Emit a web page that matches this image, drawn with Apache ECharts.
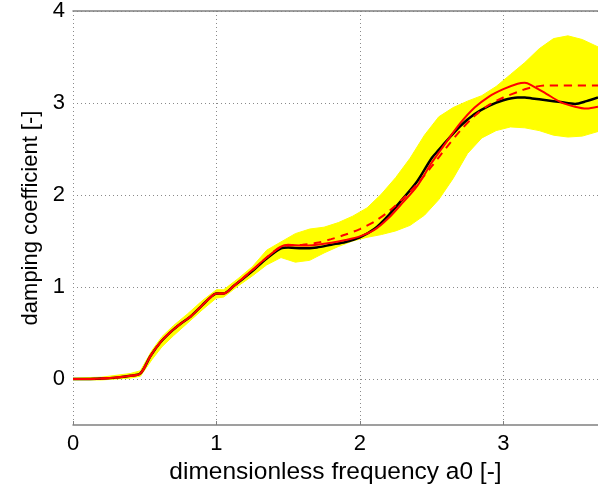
<!DOCTYPE html>
<html>
<head>
<meta charset="utf-8">
<script src="https://cdn.jsdelivr.net/npm/echarts@6/dist/echarts.min.js"></script>
<style>
  html, body { margin: 0; padding: 0; background: #fff; }
  #main { width: 598px; height: 491px; }
</style>
</head>
<body>
<div id="main"></div>
<script>
'use strict';

// frequency grid for the mean and the two red curves
var freq = [0, 0.1, 0.2, 0.3, 0.4, 0.47, 0.54, 0.61, 0.68, 0.75, 0.82, 0.9, 0.96, 1.0, 1.05, 1.12, 1.24, 1.35, 1.45, 1.5, 1.6, 1.7, 1.8, 1.9, 2.0, 2.1, 2.2, 2.3, 2.4, 2.5, 2.55, 2.6, 2.7, 2.8, 2.9, 3.0, 3.1, 3.15, 3.2, 3.3, 3.4, 3.5, 3.58, 3.66];

// black: mean
var meanVal = [0, 0, 0.005, 0.015, 0.035, 0.06, 0.25, 0.40, 0.51, 0.60, 0.68, 0.80, 0.89, 0.93, 0.93, 1.01, 1.16, 1.31, 1.42, 1.43, 1.42, 1.43, 1.46, 1.49, 1.54, 1.63, 1.78, 1.96, 2.15, 2.40, 2.49, 2.58, 2.75, 2.88, 2.97, 3.03, 3.06, 3.06, 3.05, 3.03, 3.01, 2.99, 3.02, 3.06];

// red solid
var redVal = [0, 0, 0.005, 0.015, 0.035, 0.06, 0.25, 0.40, 0.51, 0.60, 0.68, 0.80, 0.89, 0.93, 0.93, 1.01, 1.17, 1.32, 1.44, 1.46, 1.45, 1.46, 1.48, 1.51, 1.55, 1.62, 1.75, 1.92, 2.10, 2.35, 2.46, 2.57, 2.78, 2.95, 3.07, 3.15, 3.21, 3.22, 3.19, 3.10, 3.01, 2.96, 2.94, 2.96];

// red dashed
var redDashVal = [0, 0, 0.005, 0.015, 0.035, 0.06, 0.25, 0.40, 0.51, 0.60, 0.68, 0.80, 0.89, 0.93, 0.93, 1.01, 1.17, 1.32, 1.44, 1.45, 1.46, 1.48, 1.52, 1.57, 1.63, 1.71, 1.82, 1.96, 2.12, 2.31, 2.41, 2.51, 2.70, 2.86, 2.98, 3.06, 3.12, 3.15, 3.17, 3.19, 3.19, 3.19, 3.19, 3.19];

// yellow band
var bandX = [0, 0.2, 0.4, 0.47, 0.55, 0.62, 0.7, 0.8, 0.9, 1.0, 1.05, 1.15, 1.25, 1.35, 1.45, 1.55, 1.65, 1.75, 1.85, 1.95, 2.05, 2.15, 2.25, 2.35, 2.45, 2.55, 2.65, 2.75, 2.85, 2.95, 3.05, 3.15, 3.25, 3.35, 3.45, 3.55, 3.66];
var bandHigh = [0.01, 0.02, 0.06, 0.09, 0.31, 0.46, 0.58, 0.71, 0.85, 0.97, 0.97, 1.09, 1.22, 1.40, 1.49, 1.58, 1.63, 1.65, 1.70, 1.77, 1.86, 2.01, 2.19, 2.40, 2.65, 2.85, 2.95, 3.02, 3.08, 3.18, 3.31, 3.44, 3.59, 3.70, 3.73, 3.69, 3.61];
var bandLow = [-0.01, -0.01, 0.01, 0.03, 0.21, 0.35, 0.47, 0.61, 0.75, 0.88, 0.89, 1.01, 1.12, 1.24, 1.32, 1.27, 1.29, 1.37, 1.44, 1.50, 1.54, 1.57, 1.61, 1.67, 1.78, 1.95, 2.18, 2.45, 2.62, 2.70, 2.74, 2.73, 2.70, 2.65, 2.63, 2.64, 2.69];

var xTicks = [0, 1, 2, 3];
var yTicks = [0, 1, 2, 3, 4];

$init();

function $init() {
    var chart = echarts.init(document.getElementById('main'));
    chart.setOption(buildOption());
}

function pairs(xs, ys) {
    var out = [];
    for (var i = 0; i < xs.length; i++) {
        out.push([xs[i], ys[i]]);
    }
    return out;
}

function buildOption() {
    var font = 'Liberation Sans, Arial, sans-serif';
    var gridLine = {
        show: true,
        lineStyle: { color: '#8a8a8a', type: [1, 3], width: 1 }
    };
    return {
        animation: false,
        backgroundColor: '#fff',
        grid: { left: 73, right: 0, top: 10, bottom: 66 },
        xAxis: [{
            type: 'value',
            min: 0,
            max: 3.66,
            name: 'dimensionless frequency a0 [-]',
            nameLocation: 'middle',
            nameGap: 34,
            nameTextStyle: { color: '#000', fontSize: 24.5, fontFamily: font },
            axisLine: { show: true, onZero: false, lineStyle: { color: '#808080', width: 1.5 } },
            axisTick: { show: true, inside: true, length: 4, customValues: xTicks, lineStyle: { color: '#808080' } },
            axisLabel: { customValues: xTicks, color: '#000', fontSize: 22, fontFamily: font, margin: 8 },
            splitLine: gridLine
        }, {
            type: 'value',
            position: 'top',
            min: 0,
            max: 3.66,
            axisLine: { show: true, onZero: false, lineStyle: { color: '#808080', width: 1.5 } },
            axisTick: { show: false },
            axisLabel: { show: false },
            splitLine: { show: false }
        }],
        yAxis: {
            type: 'value',
            min: -0.5,
            max: 4,
            name: 'damping coefficient [-]',
            nameLocation: 'middle',
            nameGap: 28,
            nameTextStyle: { color: '#000', fontSize: 22, fontFamily: font },
            axisLine: { show: false },
            axisTick: { show: false, customValues: yTicks },
            axisLabel: { customValues: yTicks, color: '#000', fontSize: 22, fontFamily: font, margin: 8 },
            splitLine: gridLine
        },
        series: [{
            type: 'custom',
            name: 'band',
            z: 1,
            clip: true,
            data: [[0, 0]],
            renderItem: function(params, api) {
                var pts = [];
                for (var i = 0; i < bandX.length; i++) {
                    pts.push(api.coord([bandX[i], bandHigh[i]]));
                }
                for (var j = bandX.length - 1; j >= 0; j--) {
                    pts.push(api.coord([bandX[j], bandLow[j]]));
                }
                return {
                    type: 'polygon',
                    shape: { points: pts },
                    style: { fill: '#ffff00', stroke: '#ffff00', lineWidth: 1 }
                };
            }
        }, {
            type: 'line',
            name: 'mean',
            z: 2,
            data: pairs(freq, meanVal),
            smooth: 0.3,
            showSymbol: false,
            lineStyle: { color: '#000', width: 2.5 }
        }, {
            type: 'line',
            name: 'red',
            z: 3,
            data: pairs(freq, redVal),
            smooth: 0.3,
            showSymbol: false,
            lineStyle: { color: '#ff0000', width: 2 }
        }, {
            type: 'line',
            name: 'red dashed',
            z: 4,
            data: pairs(freq, redDashVal),
            smooth: 0.3,
            showSymbol: false,
            lineStyle: { color: '#ff0000', width: 2, type: [8, 6] }
        }]
    };
}
</script>
</body>
</html>
